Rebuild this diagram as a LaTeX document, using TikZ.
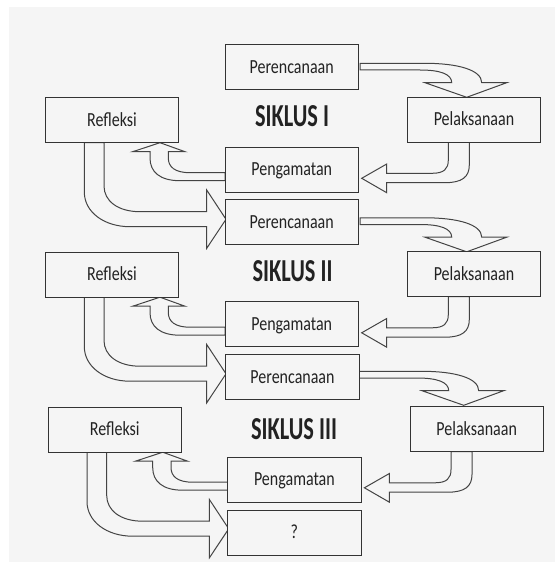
\documentclass[tikz,border=0pt]{standalone}
\usepackage{fontspec}
\newfontfamily\boxfont[FakeStretch=0.8]{Carlito}
\newfontfamily\titlefont[FakeStretch=0.7]{Carlito}
\definecolor{bgc}{HTML}{F5F5F5}
\definecolor{boxline}{HTML}{333333}
\definecolor{arrline}{HTML}{444444}
\definecolor{txt}{HTML}{222222}
\newcommand\arrA{(360,63.3) -- (425,63.3) .. controls (458,63.3) and (481.7,70) .. (481.7,82.7) -- (506.7,82.7) -- (466.7,97.3) -- (425,82.7) -- (451.7,82.7) .. controls (451.7,74) and (440,70) .. (420,70) -- (360,70) -- cycle}
\newcommand\arrB{(448.3,142) -- (448.3,160) .. controls (448.3,169) and (444,173.3) .. (432,173.3) -- (386.7,173.3) -- (386.7,164) -- (361.7,178.3) -- (386.7,192.7) -- (386.7,182.7) -- (445,182.7) .. controls (462,182.7) and (469.3,177) .. (469.3,165) -- (469.3,142) -- cycle}
\newcommand\arrC{(225,172.7) -- (190,172.7) .. controls (175,172.7) and (168.3,167) .. (168.3,158) -- (168.3,151.7) -- (185,151.7) -- (160,142.7) -- (132.7,151.7) -- (150,151.7) -- (150,158) .. controls (150,172) and (160,180.7) .. (180,180.7) -- (225,180.7) -- cycle}
\newcommand\arrD{(104,142.7) -- (104,186) .. controls (104,201) and (118,211.7) .. (140,211.7) -- (206.7,211.7) -- (206.7,190) -- (226,219.3) -- (206.7,248.3) -- (206.7,226.7) -- (130,226.7) .. controls (104,226.7) and (84.3,212) .. (84.3,192) -- (84.3,142.7) -- cycle}
\tikzset{
  box/.style={draw=boxline, line width=1pt, fill=bgc, minimum width=133.3pt, minimum height=45pt,
    inner sep=0pt, text height=12.5pt, text depth=0pt, text=txt,
    font=\boxfont\fontsize{20}{22}\selectfont},
  blk/.style={draw=arrline, line width=1pt, fill=bgc, line join=miter},
  ttl/.style={font=\titlefont\bfseries\fontsize{32}{34}\selectfont, text=txt, inner sep=0pt}
}
\begin{document}
\begin{tikzpicture}[x=1pt,y=-1pt]
\fill[white] (0,0) rectangle (555,567);
\fill[bgc] (9,7) rectangle (555,562);
\useasboundingbox (0,0) rectangle (555,567);
% block arrows
\draw[blk] \arrA; \draw[blk] \arrB; \draw[blk] \arrC; \draw[blk] \arrD;
\begin{scope}[shift={(0,154.5)}]
\draw[blk] \arrA; \draw[blk] \arrB; \draw[blk] \arrC; \draw[blk] \arrD;
\end{scope}
\begin{scope}[shift={(-3,308)}]
\draw[blk] \arrA;
\end{scope}
\begin{scope}[shift={(2.7,309.5)}]
\draw[blk] \arrB; \draw[blk] \arrC; \draw[blk] \arrD;
\end{scope}
% cycle I
\node[box] (per1) at (291.7,67.5) {Perencanaan};
\node[box] (ref1) at (112,120) {Refleksi};
\node[box] (pel1) at (474,119.7) {Pelaksanaan};
\node[box] (pen1) at (291.7,169.7) {Pengamatan};
\node[ttl] (s1) at (292,116) {SIKLUS I};
% cycle II
\node[box] (per2) at (291.7,222) {Perencanaan};
\node[box] (ref2) at (112,274.5) {Refleksi};
\node[box] (pel2) at (474,274.2) {Pelaksanaan};
\node[box] (pen2) at (291.7,324.2) {Pengamatan};
\node[ttl] (s2) at (292.5,271.5) {SIKLUS II};
% cycle III
\node[box] (per3) at (292.5,377) {Perencanaan};
\node[box] (ref3) at (114.7,429.5) {Refleksi};
\node[box] (pel3) at (476.7,429.2) {Pelaksanaan};
\node[box] (pen3) at (294.4,479.5) {Pengamatan};
\node[box] (q) at (294.4,532.5) {?};
\node[ttl] (s3) at (294,428.7) {SIKLUS III};
\end{tikzpicture}
\end{document}
